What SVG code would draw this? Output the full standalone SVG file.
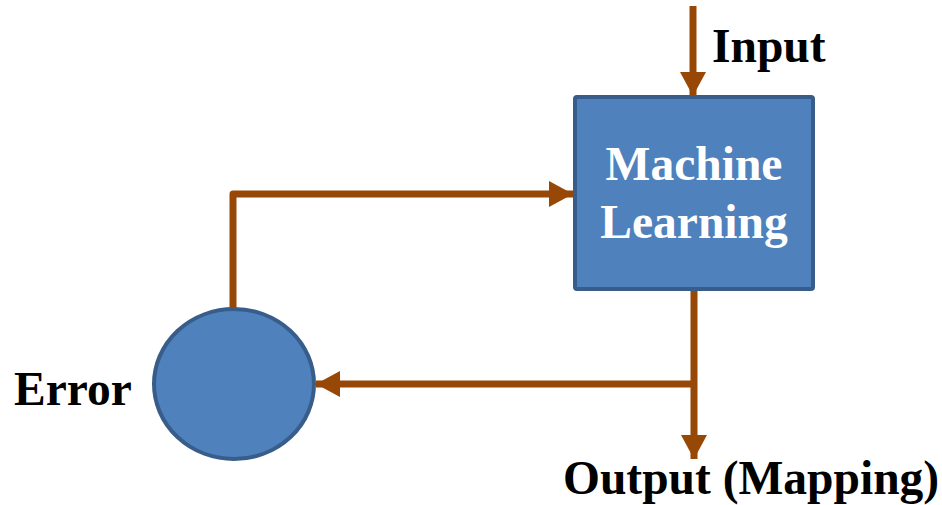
<svg xmlns="http://www.w3.org/2000/svg" width="942" height="505" viewBox="0 0 942 505">
  <defs>
    <marker id="arrow" markerUnits="userSpaceOnUse" markerWidth="26" markerHeight="26" viewBox="0 0 26 26" refX="24" refY="13" orient="auto">
      <path d="M0,0 L24,13 L0,26 Z" fill="#974806"/>
    </marker>
    <style>
      .link { fill: none; stroke: #974806; stroke-width: 7; stroke-linejoin: round; }
      .shape { fill: #4f81bd; stroke: #385d8a; stroke-width: 4; }
      .label { font-family: "Liberation Serif", "Times New Roman", serif; font-weight: bold; font-size: 47.5px; fill: #000; }
      .inner { fill: #fff; text-anchor: middle; }
    </style>
  </defs>

  <!-- connectors -->
  <g id="connectors">
    <line class="link" x1="693" y1="6" x2="693" y2="96" marker-end="url(#arrow)"/>
    <line class="link" x1="694" y1="291" x2="694" y2="459" marker-end="url(#arrow)"/>
    <line class="link" x1="694" y1="384" x2="316" y2="384" marker-end="url(#arrow)"/>
    <polyline class="link" points="233,308 233,194 573,194" marker-end="url(#arrow)"/>
  </g>

  <!-- machine learning block -->
  <g id="machine-learning">
    <rect class="shape" x="575" y="97" width="238" height="192" rx="2"/>
    <text class="label inner" x="694" y="180">Machine</text>
    <text class="label inner" x="694" y="238">Learning</text>
  </g>

  <!-- error node -->
  <g id="error">
    <ellipse class="shape" cx="234" cy="384" rx="80" ry="75"/>
    <text class="label" x="14" y="405">Error</text>
  </g>

  <g id="input-label">
    <text class="label" x="712" y="62">Input</text>
  </g>

  <g id="output-label">
    <text class="label" x="563" y="494">Output (Mapping)</text>
  </g>
</svg>
